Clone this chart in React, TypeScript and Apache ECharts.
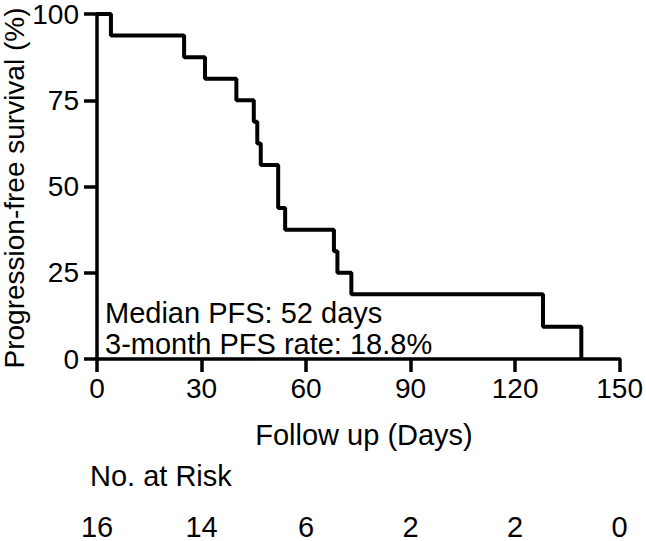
import React, { useEffect, useRef } from "react";
import * as echarts from "echarts";

// Kaplan–Meier steps: day of each event and the survival estimate after it
const eventDays = [0, 4, 25, 31, 40, 45, 46, 47, 52, 54, 68, 69, 73, 128, 139];
const survivalPct = [100, 93.75, 87.5, 81.25, 75, 68.75, 62.5, 56.25, 43.75, 37.5, 31.25, 25, 18.75, 9.375, 0];

// Number-at-risk table under the x axis
const riskDays = [0, 30, 60, 90, 120, 150];
const riskCounts = [16, 14, 6, 2, 2, 0];

const yTicks = [0, 25, 50, 75, 100];

const FONT = "Liberation Sans, Arial, Helvetica, sans-serif";
const FS = 29;
const TICK_FS = 28;

export default function App() {
  const ref = useRef<HTMLDivElement>(null);

  useEffect(() => {
    if (!ref.current) return;
    const chart = echarts.init(ref.current, undefined, { renderer: "svg" });
    const axisLine = { show: true, lineStyle: { color: "#000", width: 3.5 } };
    const label = { color: "#000", fontSize: TICK_FS, fontFamily: FONT };
    const textStyle = (text: string, align: string) => ({
      text,
      fill: "#000",
      font: `${FS}px ${FONT}`,
      align,
      verticalAlign: "middle",
    });

    chart.setOption({
      animation: false,
      backgroundColor: "#fff",
      grid: { left: 97, right: 22, top: 12, bottom: 178, containLabel: false },
      xAxis: [
        {
          type: "value",
          min: 0,
          max: 150,
          interval: 30,
          axisLine,
          axisTick: { show: true, length: 13, lineStyle: { color: "#000", width: 3.5 } },
          axisLabel: { ...label, margin: 15 },
          splitLine: { show: false },
        },
        {
          type: "value",
          min: 0,
          max: 150,
          interval: 30,
          position: "bottom",
          offset: 153,
          axisLine: { show: false },
          axisTick: { show: false },
          axisLabel: {
            ...label,
            fontSize: FS,
            margin: 0,
            formatter: (v: number) => {
              const i = riskDays.indexOf(v);
              return i >= 0 ? String(riskCounts[i]) : "";
            },
          },
          splitLine: { show: false },
        },
      ],
      yAxis: {
        type: "value",
        min: yTicks[0],
        max: yTicks[yTicks.length - 1],
        interval: 25,
        axisLine,
        axisTick: { show: true, length: 13, lineStyle: { color: "#000", width: 3.5 } },
        axisLabel: { ...label, margin: 18 },
        splitLine: { show: false },
      },
      series: [
        {
          type: "line",
          step: "end",
          showSymbol: false,
          symbol: "none",
          lineStyle: { color: "#000", width: 4 },
          data: eventDays.map((d, i) => [d, survivalPct[i]]),
        },
      ],
      graphic: [
        {
          type: "text",
          x: 14,
          y: 188,
          rotation: Math.PI / 2,
          style: { ...textStyle("Progression-free survival (%)", "center"), font: `28px ${FONT}` },
        },
        { type: "text", x: 364, y: 435, style: textStyle("Follow up (Days)", "center") },
        { type: "text", x: 90, y: 476, style: textStyle("No. at Risk", "left") },
        { type: "text", x: 105, y: 313, style: textStyle("Median PFS: 52 days", "left") },
        { type: "text", x: 105, y: 344, style: textStyle("3-month PFS rate: 18.8%", "left") },
      ],
    });

    return () => chart.dispose();
  }, []);

  return (
    <div
      ref={ref}
      style={{ position: "absolute", left: 0, top: 0, width: 646, height: 541 }}
    />
  );
}
